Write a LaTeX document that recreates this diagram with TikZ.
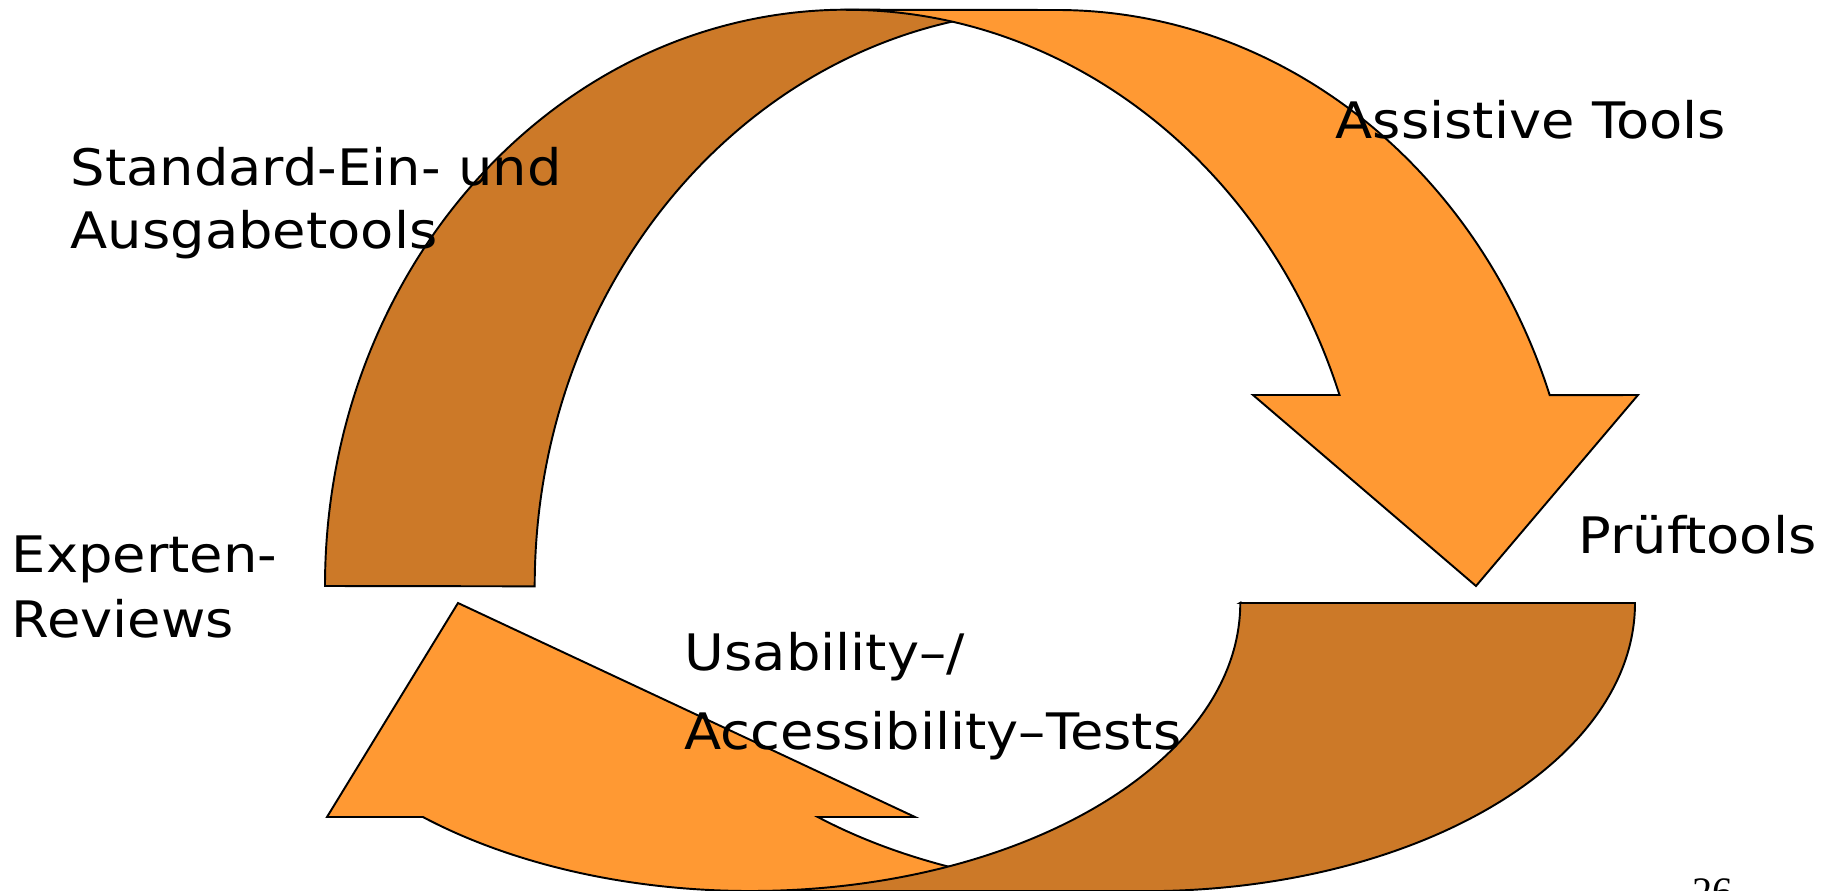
\documentclass[tikz,border=0pt]{standalone}
\usepackage{fontspec}
\setmainfont{DejaVu Sans}
\newfontfamily\lblfont[FakeStretch=1.08]{DejaVu Sans}
\newfontfamily\pagenumfont{Liberation Serif}
\definecolor{orangefill}{RGB}{255,153,51}
\definecolor{brownfill}{RGB}{204,121,40}
\begin{document}
\begin{tikzpicture}[x=0.01cm,y=0.01cm,
  band/.style={draw=black,line width=0.55pt,line join=miter},
  lbl/.style={anchor=base west,inner sep=0pt,font=\lblfont\fontsize{14.3pt}{17pt}\selectfont}]
\useasboundingbox (0,0) rectangle (1829,890);
\clip (0,0) rectangle (1829,890);
% top brown band (no head)
\draw[band,fill=brownfill] (325,304)
  arc[start angle=180,end angle=90,x radius=5.22cm,y radius=5.76cm]
  -- (1057,880)
  arc[start angle=90,end angle=180,x radius=5.22cm,y radius=5.76cm]
  -- cycle;
% top orange arrow
\draw[band,fill=orangefill] (847,880) -- (1057,880)
  arc[start angle=90,end angle=19.37,x radius=5.22cm,y radius=5.76cm]
  -- (1638,495) -- (1476,304) -- (1253,495) -- (1339.5,495)
  arc[start angle=19.37,end angle=90,x radius=5.22cm,y radius=5.76cm]
  -- cycle;
% bottom orange arrow
\draw[band,fill=orangefill] (458,287) -- (327,73) -- (422.9,73)
  arc[start angle=228,end angle=270,x radius=4.895cm,y radius=2.88cm]
  -- (1145.5,-1)
  arc[start angle=270,end angle=228,x radius=4.895cm,y radius=2.88cm]
  -- (915,73) -- cycle;
% bottom brown band
\draw[band,fill=brownfill] (1240,287) -- (1635,287)
  arc[start angle=0,end angle=-90,x radius=4.895cm,y radius=2.88cm]
  -- (750.5,-1)
  arc[start angle=-90,end angle=0,x radius=4.895cm,y radius=2.88cm]
  -- cycle;
% labels
\node[lbl] (std1) at (70,704) {Standard-Ein- und};
\node[lbl] (std2) at (70,642) {Ausgabetools};
\node[lbl] (exp1) at (11,318) {Experten-};
\node[lbl] (exp2) at (11,253) {Reviews};
\node[lbl] (usa1) at (684,220) {Usability–/};
\node[lbl] (usa2) at (684,141) {Accessibility–Tests};
\node[lbl] (assist) at (1335,751) {Assistive Tools};
\node[lbl] (pruef) at (1578,337) {Prüftools};
\node[anchor=base west,inner sep=0pt,font=\pagenumfont\fontsize{11.5pt}{13pt}\selectfont] (pagenum) at (1692,-15) {26};
\end{tikzpicture}
\end{document}
